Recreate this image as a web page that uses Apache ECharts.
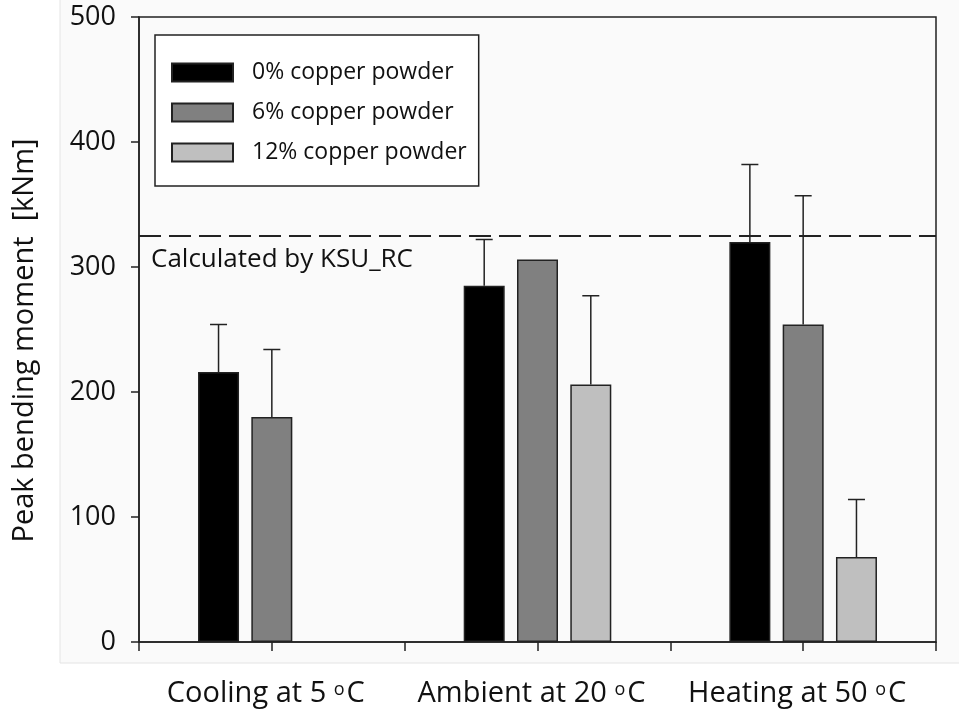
<!DOCTYPE html>
<html>
<head>
<meta charset="utf-8">
<script src="https://cdn.jsdelivr.net/npm/echarts@6/dist/echarts.min.js"></script>
<style>
  html, body { margin: 0; padding: 0; background: #ffffff; }
  #chart { width: 959px; height: 715px; }
</style>
</head>
<body>
<div id="chart"></div>
<script>
// ---- Data ----
const categories = ['Cooling at 5 °C', 'Ambient at 20 °C', 'Heating at 50 °C'];
const seriesNames = ['0% copper powder', '6% copper powder', '12% copper powder'];
const values0 = [216, 285, 320];
const values6 = [180, 306, 254];
const values12 = ['-', 206, 68];
const errTop0 = [254, 322, 382];
const errTop6 = [234, '-', 357];
const errTop12 = ['-', 277, 114];
const refLineValue = 325;
const refLineLabel = 'Calculated by KSU_RC';
const yTicks = [0, 100, 200, 300, 400, 500];
const yAxisTitle = 'Peak bending moment  [kNm]';

// ---- Styles ----
const FONT = 'Open Sans';
const colors = ['#000000', '#808080', '#bfbfbf'];
const BAR_W = 41;
const BAR_GAP = 0.30;

const allValues = [values0, values6, values12];
const allErr = [errTop0, errTop6, errTop12];

const chart = echarts.init(document.getElementById('chart'), null, { renderer: 'canvas' });

function labelFmt(v) {
  const parts = v.split('°C');
  return '{n|' + parts[0] + '}{s|o}{n|C}';
}

const barSeries = seriesNames.map((name, i) => ({
  name: name,
  type: 'bar',
  data: allValues[i],
  barWidth: BAR_W,
  barGap: (BAR_GAP * 100) + '%',
  itemStyle: { color: colors[i], borderColor: '#222', borderWidth: 1.5 },
  emphasis: { disabled: true },
  z: 3
}));

barSeries[0].markLine = {
  silent: true,
  symbol: 'none',
  lineStyle: { color: '#222', width: 2, type: [22, 8] },
  label: {
    show: true,
    position: 'insideStartBottom',
    formatter: refLineLabel,
    color: '#111',
    fontFamily: FONT,
    fontSize: 26,
    distance: [12, 11]
  },
  data: [{ yAxis: refLineValue }]
};

const errSeries = seriesNames.map((name, i) => ({
  type: 'custom',
  silent: true,
  z: 4,
  data: categories.map((c, k) => [k, allValues[i][k], allErr[i][k]]),
  encode: { x: 0, y: [1, 2] },
  renderItem: function (params, api) {
    const v = api.value(1), e = api.value(2);
    if (isNaN(v) || isNaN(e)) return null;
    const offset = (i - 1) * BAR_W * (1 + BAR_GAP);
    const pBase = api.coord([api.value(0), v]);
    const pTop = api.coord([api.value(0), e]);
    const x = pBase[0] + offset;
    const style = { stroke: '#222', lineWidth: 1.5 };
    return {
      type: 'group',
      children: [
        { type: 'line', shape: { x1: x, y1: pBase[1], x2: x, y2: pTop[1] }, style: style },
        { type: 'line', shape: { x1: x - 8.5, y1: pTop[1], x2: x + 8.5, y2: pTop[1] }, style: style }
      ]
    };
  }
}));

const option = {
  backgroundColor: '#ffffff',
  animation: false,
  graphic: [{
    type: 'rect',
    z: -10,
    silent: true,
    shape: { x: 60, y: -2, width: 905, height: 665 },
    style: { fill: '#fafafa', stroke: '#e4e4e4', lineWidth: 1 }
  }],
  grid: {
    left: 139, right: 23, top: 17, bottom: 73,
    containLabel: false,
    outerBoundsMode: 'none',
    show: true, borderColor: '#222', borderWidth: 1.5, backgroundColor: 'transparent'
  },
  legend: {
    data: seriesNames,
    orient: 'vertical',
    left: 155, top: 35,
    padding: [26, 12, 22, 16],
    itemWidth: 61, itemHeight: 18, itemGap: 17,
    borderColor: '#222', borderWidth: 1.5,
    backgroundColor: '#ffffff',
    icon: 'rect',
    selectedMode: false,
    textStyle: { fontFamily: FONT, fontSize: 23, color: '#111', lineHeight: 18, padding: [0, 0, 0, 14] }
  },
  xAxis: [{
    type: 'category',
    data: categories,
    boundaryGap: true,
    axisLine: { show: true, lineStyle: { color: '#222', width: 1.5 } },
    axisTick: { show: true, length: 9, lineStyle: { color: '#222', width: 1.5 } },
    axisLabel: {
      margin: 35,
      formatter: labelFmt,
      padding: [0, 12, 0, 0],
      rich: {
        n: { fontFamily: FONT, fontSize: 29, color: '#111', lineHeight: 34 },
        s: { fontFamily: FONT, fontSize: 18, color: '#111', lineHeight: 18, verticalAlign: 'top', padding: [4, 2, 0, 0] }
      }
    },
    splitLine: { show: false }
  }, {
    type: 'category',
    data: categories,
    boundaryGap: true,
    position: 'bottom',
    axisLine: { show: false },
    axisTick: { show: true, alignWithLabel: true, length: 9, lineStyle: { color: '#222', width: 1.5 } },
    axisLabel: { show: false },
    splitLine: { show: false }
  }],
  yAxis: {
    type: 'value',
    min: yTicks[0], max: yTicks[yTicks.length - 1], interval: 100,
    name: yAxisTitle,
    nameLocation: 'middle',
    nameRotate: 90,
    nameGap: 100,
    nameTextStyle: { fontFamily: FONT, fontSize: 29, color: '#111', padding: [0, 22, 0, 0] },
    axisLine: { show: true, lineStyle: { color: '#222', width: 1.5 } },
    axisTick: { show: true, length: 8, lineStyle: { color: '#222', width: 1.5 } },
    axisLabel: { fontFamily: FONT, fontSize: 27, color: '#111', margin: 23 },
    splitLine: { show: false }
  },
  series: barSeries.concat(errSeries)
};

chart.setOption(option);
</script>
</body>
</html>
